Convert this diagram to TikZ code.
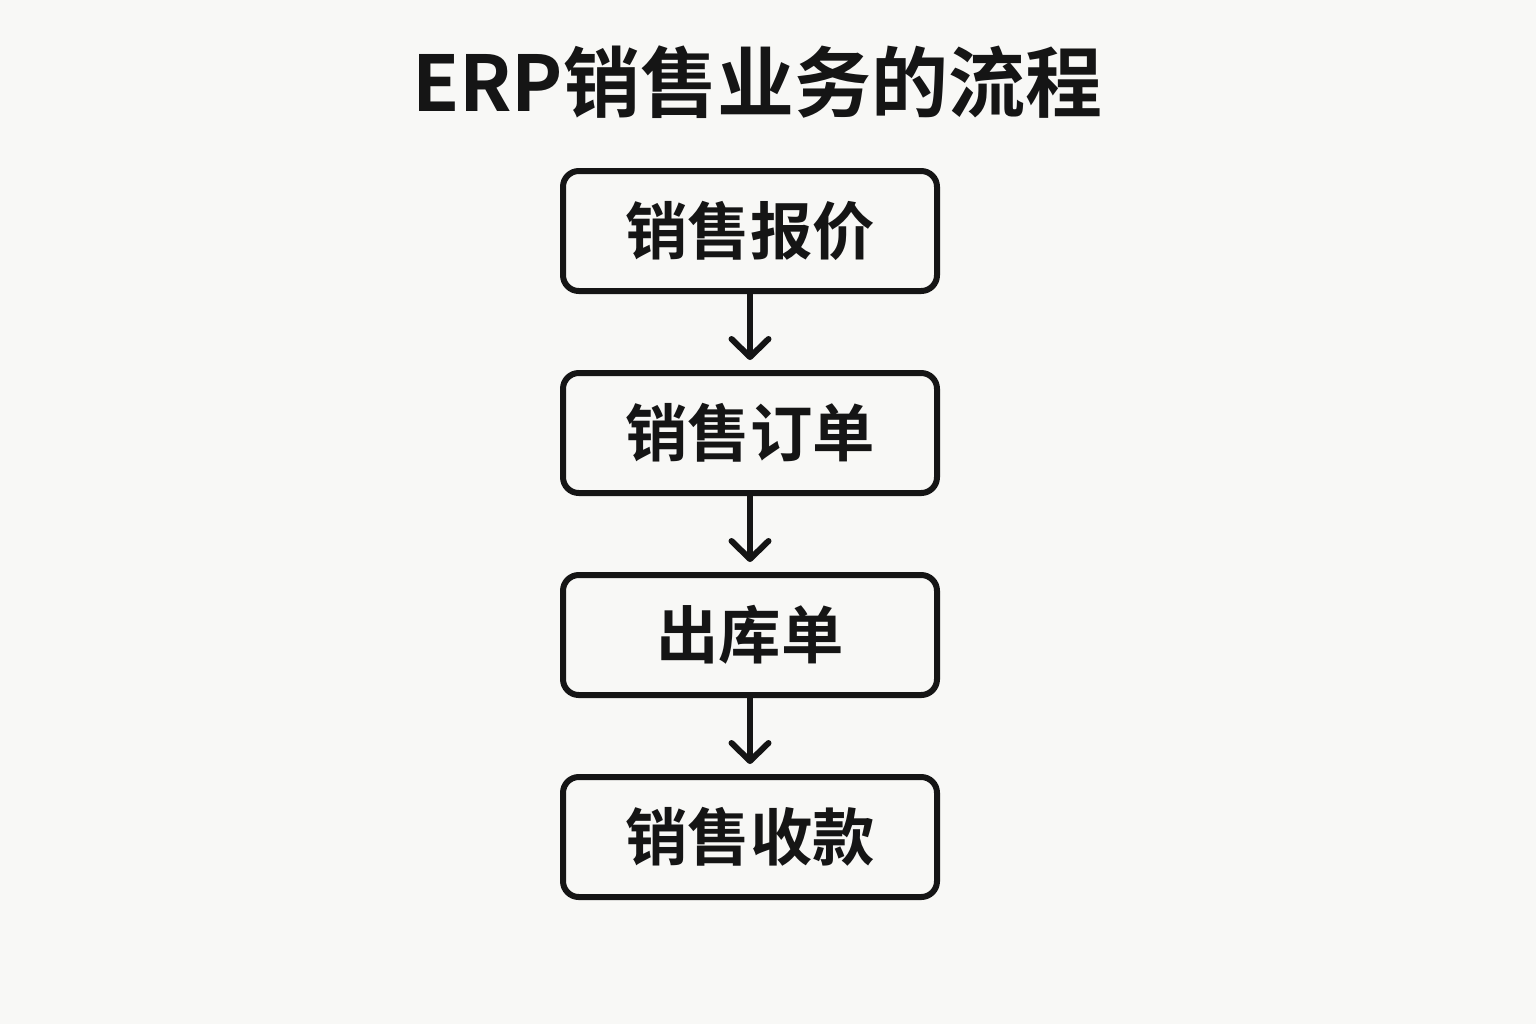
\documentclass[tikz,border=0pt]{standalone}
\usepackage{fontspec}
\setmainfont{Noto Sans CJK SC}
\newfontfamily\cjkbold{Noto Sans CJK SC Bold}
\usepackage{tikz}
\usetikzlibrary{arrows.meta, positioning}
\definecolor{bgpaper}{HTML}{F8F8F6}
\definecolor{inkblack}{HTML}{151515}

\begin{document}
\begin{tikzpicture}[
  node distance=1.52cm,
  stepbox/.style={
    rectangle, rounded corners=9pt,
    minimum width=7.48cm, minimum height=2.4cm,
    text centered, font=\cjkbold\fontsize{35.5}{40}\selectfont,
    draw=inkblack, line width=0.12cm, text=inkblack
  },
  arrow/.style={-{Straight Barb[length=0.36cm, width=0.74cm, round]},
    line width=0.12cm, color=inkblack, line cap=round, shorten >=0.2cm}
]
% page
\fill[bgpaper] (0,0) rectangle (30.72,-20.48);
\useasboundingbox (0,0) rectangle (30.72,-20.48);

% title
\node[font=\cjkbold\fontsize{43.8}{48}\selectfont, text=inkblack] (title)
      at (15.14,-1.64) {ERP销售业务的流程};

% steps
\node[stepbox] (quote) at (15.0,-4.62) {销售报价};
\node[stepbox, below=of quote] (order) {销售订单};
\node[stepbox, below=of order] (outbound) {出库单};
\node[stepbox, below=of outbound] (receipt) {销售收款};

% arrows
\foreach \a/\b in {quote/order, order/outbound, outbound/receipt}{
  \draw[arrow] (\a.south) -- (\b.north);
}

\end{tikzpicture}
\end{document}
